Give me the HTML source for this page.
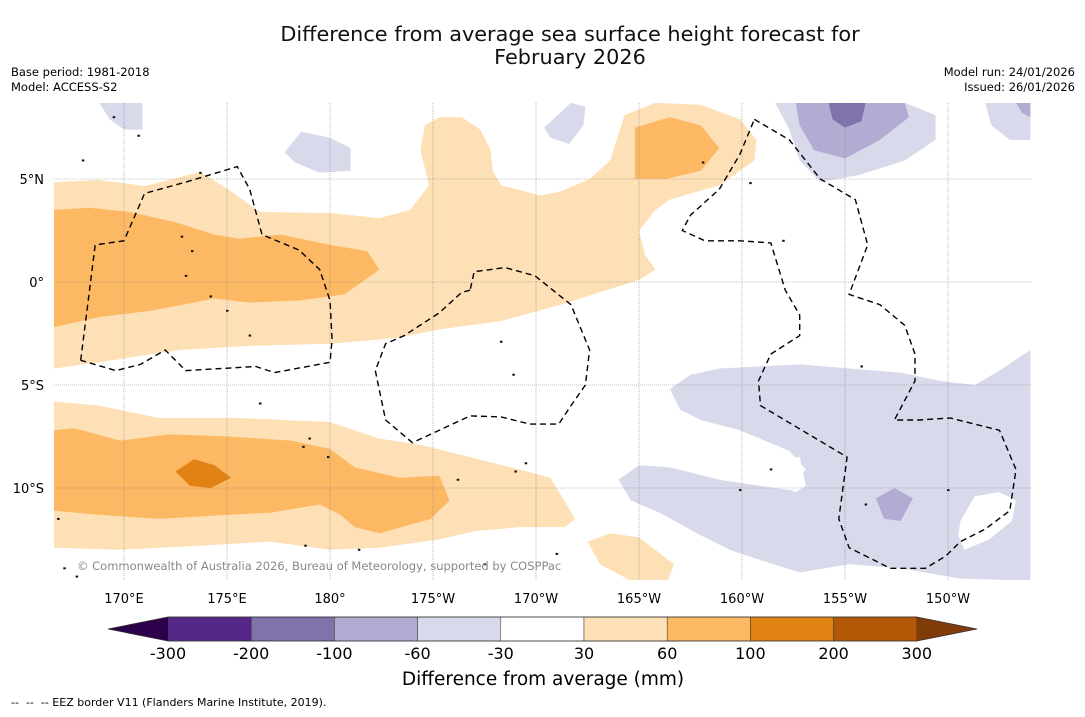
<!DOCTYPE html>
<html><head><meta charset="utf-8"><style>
body{margin:0;background:#fff;width:1085px;height:713px;overflow:hidden;font-family:"DejaVu Sans","Liberation Sans",sans-serif}
svg text{font-family:"DejaVu Sans","Liberation Sans",sans-serif;white-space:pre}
</style></head><body>
<svg id="chart" width="1085" height="713" viewBox="0 0 1085 713" xmlns="http://www.w3.org/2000/svg">
<rect width="1085" height="713" fill="#fff"/>
<text x="570" y="41" font-size="20.8" text-anchor="middle" fill="#111">Difference from average sea surface height forecast for</text>
<text x="570" y="64" font-size="20.8" text-anchor="middle" fill="#111">February 2026</text>
<text x="11" y="76" font-size="11.5">Base period: 1981-2018</text>
<text x="11" y="91" font-size="11.5">Model: ACCESS-S2</text>
<text x="1075" y="76" font-size="11.5" text-anchor="end">Model run: 24/01/2026</text>
<text x="1075" y="91" font-size="11.5" text-anchor="end">Issued: 26/01/2026</text>
<defs><clipPath id="mapclip"><rect x="54" y="103" width="977" height="477"/></clipPath></defs>
<g id="map" clip-path="url(#mapclip)"></g>
<g id="grid"></g>
<g id="eez" clip-path="url(#mapclip)"></g>
<text x="77" y="570" font-size="11.5" fill="#888">© Commonwealth of Australia 2026, Bureau of Meteorology, supported by COSPPac</text>
<g id="axes"></g>
<g id="cbar"></g>
<text x="543" y="685" font-size="18.5" text-anchor="middle">Difference from average (mm)</text>
<text x="11" y="706" font-size="11" xml:space="preserve">--  --  -- EEZ border V11 (Flanders Marine Institute, 2019).</text>
</svg>
<script>
const lonTicks=[170,175,180,185,190,195,200,205,210];
const lonTickLabels=["170°E","175°E","180°","175°W","170°W","165°W","160°W","155°W","150°W"];
const latTicks=[5,0,-5,-10];
const latTickLabels=["5°N","0°","5°S","10°S"];
const levels=["-300","-200","-100","-60","-30","30","60","100","200","300"];
const levelColors=["#542788","#8073ac","#b2abd2","#d8daeb","#ffffff","#fee0b6","#fdb863","#e08214","#b35806"];
const extendColors=["#2d004b","#7f3b08"];
const contourL1=[[166.6,4.85],[168.8,4.95],[171.0,4.66],[173.7,5.34],[175.1,4.47],[176.6,3.4],[180,3.35],[182.4,3.1],[183.9,3.5],[184.8,4.7],[184.4,6.4],[184.6,7.6],[185.3,8.0],[186.4,8.0],[187.3,7.4],[187.8,6.4],[187.9,5.4],[188.3,4.7],[190.2,4.2],[191.2,4.4],[192.6,5.0],[193.6,5.9],[194.3,8.1],[195.8,8.7],[198.0,8.6],[199.9,7.9],[200.7,6.9],[200.6,5.9],[198.9,4.7],[196.5,4.0],[195.8,3.5],[195.0,2.5],[195.3,1.3],[195.8,0.6],[195.0,0.1],[193.1,-0.5],[191.2,-1.1],[188.3,-1.9],[185.3,-2.3],[183.4,-2.7],[180,-3.0],[176.1,-3.1],[172.7,-3.3],[168.8,-3.9],[166.6,-4.2]];
const contourM1=[[166.6,3.5],[168.3,3.6],[170.3,3.4],[172.5,2.9],[174.4,2.3],[175.6,2.1],[177.6,2.3],[180,1.8],[181.8,1.5],[182.4,0.6],[180.7,-0.6],[178.5,-0.9],[176.1,-1.0],[174.4,-0.8],[171.3,-1.4],[168.8,-1.7],[166.6,-2.2]];
const contourM2=[[194.8,7.5],[196.5,8.0],[198.0,7.6],[198.9,6.5],[198.0,5.4],[196.3,5.0],[194.8,5.0]];
const contourL2=[[166.6,-5.8],[168.8,-6.0],[171.7,-6.6],[175.6,-6.6],[180,-6.8],[182.4,-7.6],[184.4,-7.9],[186.8,-8.5],[189.2,-9.1],[190.7,-9.5],[191.9,-11.5],[191.4,-11.9],[189.2,-11.9],[187.0,-12.1],[185.3,-12.5],[182.4,-12.9],[180,-13.0],[177.1,-12.6],[173.7,-12.8],[169.8,-13.0],[166.6,-12.9]];
const contourM3=[[166.6,-7.2],[167.6,-7.1],[169.8,-7.7],[172.2,-7.4],[175.1,-7.5],[178.1,-7.7],[180,-8.1],[181.2,-9.0],[183.4,-9.5],[185.3,-9.4],[185.8,-10.6],[184.9,-11.5],[182.4,-12.2],[181.2,-11.9],[180.5,-11.3],[179.5,-10.8],[177.1,-11.2],[175.1,-11.3],[171.7,-11.5],[168.8,-11.3],[166.6,-11.1]];
const contourD1=[[172.5,-9.2],[173.4,-8.6],[174.4,-8.9],[175.2,-9.5],[174.2,-10.0],[173.2,-9.9]];
const contourL3=[[192.5,-12.6],[193.6,-12.2],[195.0,-12.4],[196.7,-13.7],[196.4,-14.5],[194.6,-14.5],[193.1,-13.7]];
const contourP1=[[196.5,-5.2],[197.5,-4.5],[198.9,-4.2],[202.8,-4.0],[205.2,-4.2],[207.7,-4.4],[209.6,-4.8],[211.3,-5.0],[212.5,-4.3],[214.0,-3.3],[214.0,-14.5],[210.6,-14.4],[207.7,-13.9],[205.2,-13.7],[202.8,-14.1],[200.9,-13.5],[199.4,-13.0],[198.0,-12.3],[196.0,-11.2],[194.6,-10.6],[194.0,-9.6],[195.0,-8.9],[196.5,-9.0],[198.9,-9.6],[200.9,-9.9],[202.3,-10.1],[203.1,-9.1],[202.3,-8.2],[199.9,-7.2],[198.0,-6.7],[197.0,-6.2]];
const holeW1=[[201.1,-8.6],[202.8,-8.5],[203.1,-9.9],[202.6,-10.2],[201.4,-9.6]];
const holeW2=[[210.6,-11.6],[211.3,-10.4],[212.5,-10.2],[213.3,-10.6],[213.1,-11.6],[212.0,-12.5],[210.8,-13.0],[210.5,-12.3]];
const contourP2=[[206.5,-10.5],[207.4,-10.0],[208.3,-10.5],[207.7,-11.6],[206.9,-11.5]];
const contourP3=[[201.6,8.7],[207.9,8.7],[209.4,8.1],[209.4,6.9],[207.9,5.9],[205.7,5.2],[203.8,4.85],[202.8,5.9],[202.3,7.4]];
const contourP4=[[202.6,8.7],[207.9,8.7],[208.1,8.0],[206.7,6.9],[205.0,6.0],[203.5,6.4],[202.8,7.6]];
const contourP5=[[204.2,8.7],[206.0,8.7],[205.8,7.8],[205.0,7.5],[204.4,7.9]];
const contourP6=[[211.8,8.7],[214.0,8.7],[214.0,6.9],[213.0,6.9],[212.1,7.6]];
const contourP7=[[213.3,8.7],[214.0,8.7],[214.0,8.0],[213.6,8.2]];
const contourP8=[[168.8,8.7],[170.9,8.7],[170.9,7.4],[170.0,7.4],[169.3,7.9]];
const contourP9=[[177.8,6.3],[178.6,7.3],[180,7.0],[181.0,6.5],[181.0,5.4],[179.5,5.3],[178.3,5.8]];
const contourP10=[[190.4,7.5],[191.7,8.7],[192.4,8.5],[192.3,7.6],[191.6,6.7],[190.7,7.0]];
const regions=[[5,contourL1],[6,contourM1],[6,contourM2],[5,contourL2],[6,contourM3],[7,contourD1],[5,contourL3],[3,contourP1],[4,holeW1],[4,holeW2],[2,contourP2],[3,contourP3],[2,contourP4],[1,contourP5],[3,contourP6],[2,contourP7],[3,contourP8],[3,contourP9],[3,contourP10]];
const eezLines=[
[[167.9,-3.8],[168.6,1.8],[170.0,2.0],[171.0,4.3],[173.0,4.85],[175.5,5.6],[176.1,4.5],[176.7,2.3],[178.5,1.55],[179.5,0.6],[180,-0.9],[180.1,-2.8],[180,-3.9],[177.3,-4.4],[176.4,-4.1],[173.0,-4.3],[172.0,-3.3],[170.8,-4.0],[169.6,-4.3],[167.9,-3.8]],
[[186.8,-0.4],[186.4,-0.5],[185.3,-1.5],[183.6,-2.6],[182.7,-3.0],[182.2,-4.3],[182.7,-6.7],[184.0,-7.8],[186.8,-6.5],[188.3,-6.55],[189.7,-6.9],[191.1,-6.9],[191.7,-6.0],[192.4,-5.0],[192.6,-3.3],[191.7,-1.1],[189.95,0.3],[188.5,0.7],[187.0,0.5],[186.8,-0.4]],
[[200.6,7.9],[202.3,6.9],[203.8,5.0],[205.5,4.0],[206.1,1.8],[205.2,-0.6],[206.7,-1.1],[207.9,-2.1],[208.4,-3.5],[208.4,-4.8],[207.4,-6.7],[208.6,-6.7],[210.1,-6.6],[212.5,-7.2],[213.3,-9.1],[213.0,-11.1],[211.8,-12.0],[210.6,-12.6],[209.9,-13.3],[208.9,-13.9],[207.2,-13.9],[205.2,-12.9],[204.7,-11.5],[205.1,-8.5],[200.9,-6.0],[200.8,-4.8],[201.4,-3.5],[202.8,-2.6],[202.8,-1.6],[202.1,-0.4],[201.4,1.9],[199.9,2.0],[198.2,2.0],[197.1,2.5],[197.5,3.25],[198.9,4.5],[199.9,6.2],[200.6,7.9]]];
const islands=[[172.8,2.2],[173.3,1.5],[173.0,0.3],[174.2,-0.7],[175.0,-1.4],[176.1,-2.6],[176.6,-5.9],[179.0,-7.6],[179.9,-8.5],[178.7,-8.0],[188.3,-2.9],[188.9,-4.5],[189.5,-8.8],[189.0,-9.2],[186.2,-9.6],[181.4,-13.0],[187.5,-13.7],[191.0,-13.2],[205.8,-4.1],[206.0,-10.8],[201.4,-9.1],[199.9,-10.1],[210.0,-10.1],[202.0,2.0],[200.4,4.8],[198.1,5.8],[178.8,-12.8],[166.8,-11.5],[167.1,-13.9],[167.7,-14.3],[173.7,5.3],[168.0,5.9],[169.5,8.0],[170.7,7.1]];
const ns='http://www.w3.org/2000/svg';
const X=lon=>124+(lon-170)*20.6;
const Y=lat=>282-lat*20.6;
const pts=a=>a.map(p=>X(p[0]).toFixed(1)+','+Y(p[1]).toFixed(1)).join(' ');
const map=document.getElementById('map');
regions.forEach((r,i)=>{const p=document.createElementNS(ns,'polygon');
p.setAttribute('points',pts(r[1]));p.setAttribute('fill',levelColors[r[0]]);


map.appendChild(p);});
islands.forEach((s,i)=>{const c=document.createElementNS(ns,'rect');
c.setAttribute('x',X(s[0])-1);c.setAttribute('y',Y(s[1])-1);c.setAttribute('width',2.5);c.setAttribute('height',2);c.setAttribute('fill','#111');


map.appendChild(c);});
const grid=document.getElementById('grid');
lonTicks.forEach((l,i)=>{const g=document.createElementNS(ns,'line');
g.setAttribute('x1',X(l));g.setAttribute('x2',X(l));g.setAttribute('y1',103);g.setAttribute('y2',580);
g.setAttribute('stroke','#888');g.setAttribute('stroke-width','0.6');g.setAttribute('stroke-dasharray','1,1');


grid.appendChild(g);
const t=document.createElementNS(ns,'text');t.setAttribute('x',X(l));t.setAttribute('y',603);t.setAttribute('font-size','13');t.setAttribute('text-anchor','middle');t.textContent=lonTickLabels[i];


document.getElementById('axes').appendChild(t);});
latTicks.forEach((l,i)=>{const g=document.createElementNS(ns,'line');
g.setAttribute('x1',54);g.setAttribute('x2',1031);g.setAttribute('y1',Y(l));g.setAttribute('y2',Y(l));
g.setAttribute('stroke','#888');g.setAttribute('stroke-width','0.6');g.setAttribute('stroke-dasharray','1,1');


grid.appendChild(g);
const t=document.createElementNS(ns,'text');t.setAttribute('x',44);t.setAttribute('y',Y(l)+5);t.setAttribute('font-size','13');t.setAttribute('text-anchor','end');t.textContent=latTickLabels[i];


document.getElementById('axes').appendChild(t);});
const eez=document.getElementById('eez');
eezLines.forEach((l,i)=>{const p=document.createElementNS(ns,'polyline');
p.setAttribute('points',pts(l));p.setAttribute('fill','none');p.setAttribute('stroke','#000');p.setAttribute('stroke-width','1.4');p.setAttribute('stroke-dasharray','6,4');


eez.appendChild(p);});
const cb=document.getElementById('cbar');const cx0=168,cw=83.2,cy=617,ch=24;
levelColors.forEach((c,i)=>{const r=document.createElementNS(ns,'rect');
r.setAttribute('x',cx0+i*cw);r.setAttribute('y',cy);r.setAttribute('width',cw);r.setAttribute('height',ch);r.setAttribute('fill',c);r.setAttribute('stroke','#333');r.setAttribute('stroke-width','0.5');


cb.appendChild(r);});
const xe=cx0+levelColors.length*cw;
[[`${cx0},${cy} ${cx0},${cy+ch} 108,${cy+ch/2}`,extendColors[0]],[`${xe},${cy} ${xe},${cy+ch} 977,${cy+ch/2}`,extendColors[1]]].forEach((t,i)=>{
const p=document.createElementNS(ns,'polygon');p.setAttribute('points',t[0]);p.setAttribute('fill',t[1]);


cb.appendChild(p);});
const fr=document.createElementNS(ns,'polygon');
fr.setAttribute('points',`108,${cy+ch/2} ${cx0},${cy} ${xe},${cy} 977,${cy+ch/2} ${xe},${cy+ch} ${cx0},${cy+ch}`);fr.setAttribute('fill','none');fr.setAttribute('stroke','#333');fr.setAttribute('stroke-width','0.8');


cb.appendChild(fr);
levels.forEach((v,i)=>{const t=document.createElementNS(ns,'text');
t.setAttribute('x',cx0+i*cw);t.setAttribute('y',659);t.setAttribute('font-size','16');t.setAttribute('text-anchor','middle');t.textContent=v;


cb.appendChild(t);});
</script>
</body></html>
